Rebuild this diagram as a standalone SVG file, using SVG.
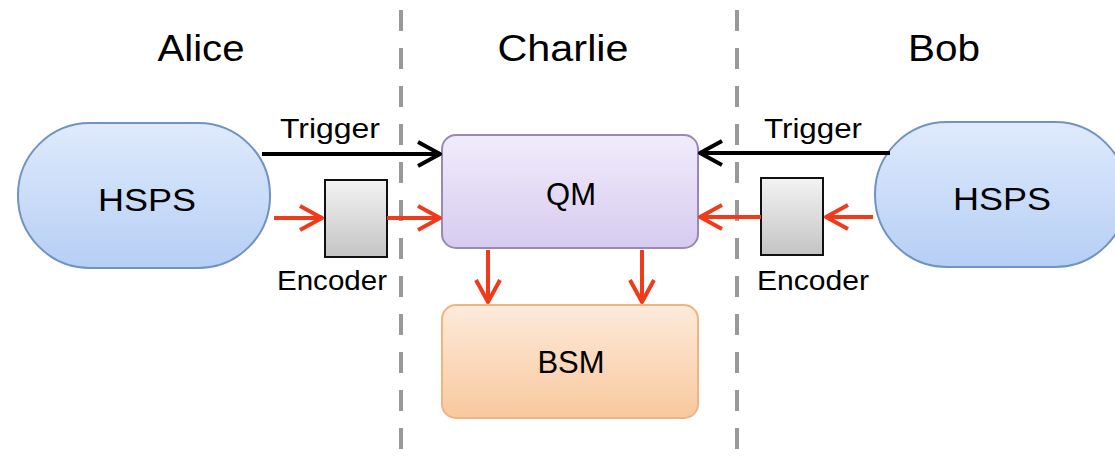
<svg xmlns="http://www.w3.org/2000/svg" width="1115" height="466" viewBox="0 0 1115 466">
<defs>
<linearGradient id="gBlue" x1="0" y1="0" x2="0" y2="1"><stop offset="0" stop-color="#dfeafc"/><stop offset="1" stop-color="#b6cff5"/></linearGradient>
<linearGradient id="gPurple" x1="0" y1="0" x2="0" y2="1"><stop offset="0" stop-color="#f1ecfb"/><stop offset="1" stop-color="#d6cbef"/></linearGradient>
<linearGradient id="gOrange" x1="0" y1="0" x2="0" y2="1"><stop offset="0" stop-color="#fdeadb"/><stop offset="1" stop-color="#f9c89e"/></linearGradient>
<linearGradient id="gGray" x1="0" y1="0" x2="0" y2="1"><stop offset="0" stop-color="#f3f3f3"/><stop offset="1" stop-color="#c4c4c4"/></linearGradient>
<marker id="aBlack" markerWidth="28" markerHeight="30" refX="25" refY="15" orient="auto" markerUnits="userSpaceOnUse" viewBox="0 0 28 30"><path d="M3,3 L25,15 L3,27" fill="none" stroke="#000" stroke-width="4" stroke-linejoin="round"/></marker>
<marker id="aRed" markerWidth="28" markerHeight="30" refX="25" refY="15" orient="auto" markerUnits="userSpaceOnUse" viewBox="0 0 28 30"><path d="M3,3 L25,15 L3,27" fill="none" stroke="#f03a1a" stroke-width="4" stroke-linejoin="round"/></marker>
</defs>
<style>
text{font-family:"Liberation Sans",Arial,sans-serif;fill:#000;text-anchor:middle}
.title{font-size:36px}
.lbl{font-size:28px}
.node{font-size:31px}
.divider{stroke:#999;stroke-width:4;stroke-dasharray:21 17}
.trig{stroke:#000;stroke-width:4;fill:none}
.red{stroke:#f03a1a;stroke-width:4;fill:none}
</style>
<g id="dividers">
<line class="divider" x1="401" y1="10" x2="401" y2="466"/>
<line class="divider" x1="737" y1="10" x2="737" y2="466"/>
</g>
<g id="titles">
<text class="title" x="201" y="61" textLength="87" lengthAdjust="spacingAndGlyphs">Alice</text>
<text class="title" x="563" y="61" textLength="131" lengthAdjust="spacingAndGlyphs">Charlie</text>
<text class="title" x="944" y="61" textLength="72" lengthAdjust="spacingAndGlyphs">Bob</text>
</g>
<g id="alice-hsps">
<rect x="18" y="123" width="252" height="145" rx="72" ry="72" fill="url(#gBlue)" stroke="#6f93c4" stroke-width="2"/>
<text class="node" x="147" y="211" textLength="98" lengthAdjust="spacingAndGlyphs">HSPS</text>
</g>
<g id="bob-hsps">
<rect x="875" y="122" width="252" height="145" rx="72" ry="72" fill="url(#gBlue)" stroke="#6f93c4" stroke-width="2"/>
<text class="node" x="1002" y="210" textLength="98" lengthAdjust="spacingAndGlyphs">HSPS</text>
</g>
<g id="alice-encoder">
<rect x="325" y="180" width="62" height="77" fill="url(#gGray)" stroke="#111" stroke-width="2"/>
<text class="lbl" x="332" y="290" textLength="110" lengthAdjust="spacingAndGlyphs">Encoder</text>
</g>
<g id="bob-encoder">
<rect x="761" y="178" width="62" height="77" fill="url(#gGray)" stroke="#111" stroke-width="2"/>
<text class="lbl" x="813" y="290" textLength="112" lengthAdjust="spacingAndGlyphs">Encoder</text>
</g>
<g id="qm">
<rect x="442" y="135" width="256" height="113" rx="14" ry="14" fill="url(#gPurple)" stroke="#9a88b6" stroke-width="2"/>
<text class="node" x="571" y="205">QM</text>
</g>
<g id="bsm">
<rect x="442" y="305" width="256" height="113" rx="14" ry="14" fill="url(#gOrange)" stroke="#efb57e" stroke-width="2"/>
<text class="node" x="571" y="373">BSM</text>
</g>
<g id="connectors">
<line class="trig" x1="262" y1="154" x2="440" y2="154" marker-end="url(#aBlack)"/>
<line class="trig" x1="890" y1="153" x2="700" y2="153" marker-end="url(#aBlack)"/>
<line class="red" x1="274" y1="218" x2="322" y2="218" marker-end="url(#aRed)"/>
<line class="red" x1="387" y1="218" x2="440" y2="218" marker-end="url(#aRed)"/>
<line class="red" x1="873" y1="217" x2="826" y2="217" marker-end="url(#aRed)"/>
<line class="red" x1="761" y1="217" x2="700" y2="217" marker-end="url(#aRed)"/>
<line class="red" x1="488" y1="250" x2="488" y2="302" marker-end="url(#aRed)"/>
<line class="red" x1="642" y1="250" x2="642" y2="302" marker-end="url(#aRed)"/>
</g>
<g id="labels">
<text class="lbl" x="330" y="138" textLength="100" lengthAdjust="spacingAndGlyphs">Trigger</text>
<text class="lbl" x="813" y="138" textLength="98" lengthAdjust="spacingAndGlyphs">Trigger</text>
</g>
</svg>
